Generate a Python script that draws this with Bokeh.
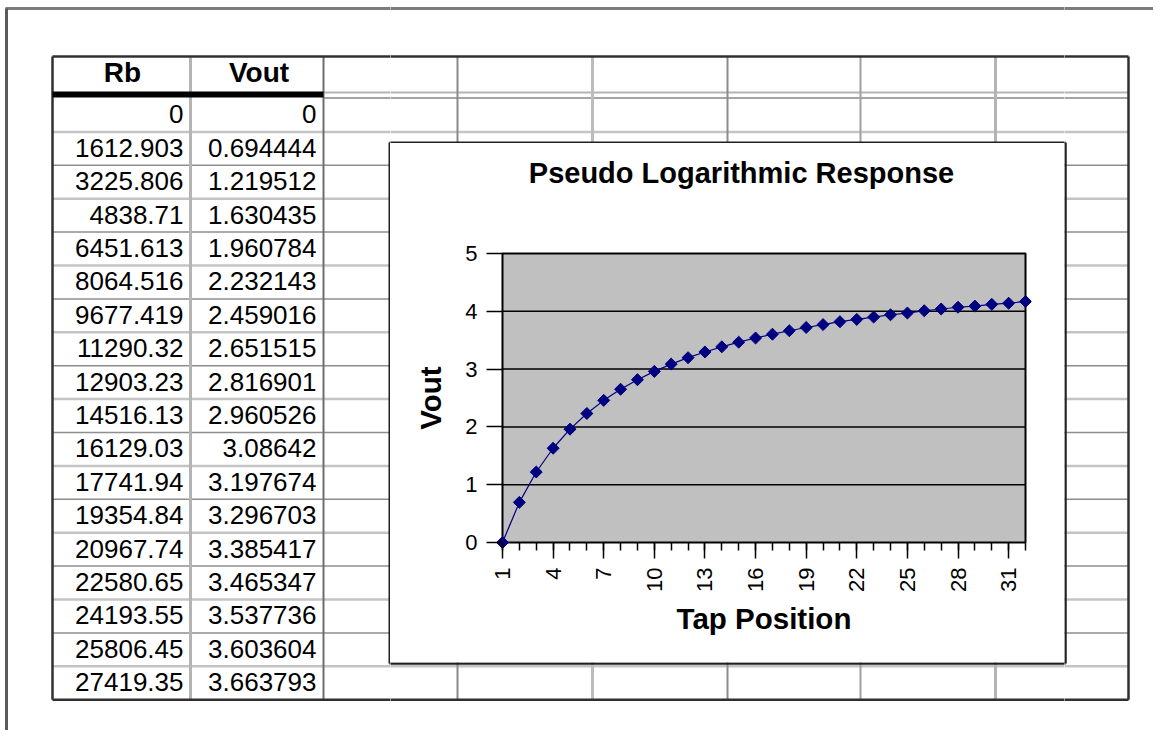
import math
from bokeh.plotting import figure
from bokeh.models import Range1d, FixedTicker
from bokeh.layouts import row, column
from bokeh.core.properties import value
from bokeh.embed import file_html
from bokeh.resources import INLINE

# ---------------- data ----------------
table_headers = ["Rb", "Vout"]
rb_values = [0, 1612.903, 3225.806, 4838.71, 6451.613, 8064.516, 9677.419,
             11290.32, 12903.23, 14516.13, 16129.03, 17741.94, 19354.84,
             20967.74, 22580.65, 24193.55, 25806.45, 27419.35]
vout_values = [0, 0.694444, 1.219512, 1.630435, 1.960784, 2.232143, 2.459016,
               2.651515, 2.816901, 2.960526, 3.08642, 3.197674, 3.296703,
               3.385417, 3.465347, 3.537736, 3.603604, 3.663793]
tap_position = [1, 2, 3, 4, 5, 6, 7, 8, 9, 10, 11, 12, 13, 14, 15, 16,
                17, 18, 19, 20, 21, 22, 23, 24, 25, 26, 27, 28, 29, 30, 31, 32]
vout_curve = [0, 0.694444, 1.219512, 1.630435, 1.960784, 2.232143, 2.459016,
              2.651515, 2.816901, 2.960526, 3.08642, 3.197674, 3.296703,
              3.385417, 3.465347, 3.537736, 3.603604, 3.663793,
              3.72, 3.77, 3.82, 3.86, 3.90, 3.94, 3.97, 4.01, 4.04, 4.07,
              4.09, 4.12, 4.14, 4.17]
x_tick_values = [1, 4, 7, 10, 13, 16, 19, 22, 25, 28, 31]
y_tick_values = [0, 1, 2, 3, 4, 5]
chart_title = "Pseudo Logarithmic Response"
x_label = "Tap Position"
y_label = "Vout"

# ---------------- layout constants (picture pixels) ----------------
PAGE_W, PAGE_H = 1153, 730
BOX_L, BOX_R, BOX_T, BOX_B = 390, 1064, 143, 662
TITLE_B = 205
COL_X = [52, 190, 323, 457, 592, 727, 860, 995, 1128]
COL_STYLE = [("#303030", 2.5), ("#b4b4b4", 3), ("#6e6e6e", 2), ("#8a8a8a", 2),
             ("#bcbcbc", 3), ("#8c8c8c", 2), ("#a0a0a0", 2), ("#b4b4b4", 3),
             ("#303030", 2.5)]
TBL_T = 56
ROW0 = 98
ROW_H = 33.4
FONT = "Liberation Sans"
BASE_SHIFT = 0.385   # em offset of the rendered alphabetic baseline


def plain_fig(x0, x1, y0, y1):
    return figure(width=int(x1 - x0), height=int(y1 - y0),
                  x_range=Range1d(x0, x1), y_range=Range1d(y1, y0),
                  x_axis_type=None, y_axis_type=None, min_border=0,
                  toolbar_location=None, output_backend="svg",
                  outline_line_color=None, background_fill_color="white",
                  border_fill_color="white")


def sheet_fig(x0, x1, y0, y1):
    f = plain_fig(x0, x1, y0, y1)
    n = len(rb_values)
    tbl_b = ROW0 + n * ROW_H
    segs = {"x0": [], "y0": [], "x1": [], "y1": [], "c": [], "w": []}

    def add(a, b, c, d, col, w):
        segs["x0"].append(a); segs["y0"].append(b)
        segs["x1"].append(c); segs["y1"].append(d)
        segs["c"].append(col); segs["w"].append(w)

    for i in range(1, n):
        y = ROW0 + i * ROW_H
        if i % 2 == 1:
            add(COL_X[0], y, COL_X[-1], y, "#c4c4c4", 2.5)
        else:
            add(COL_X[0], y, COL_X[-1], y, "#8e8e8e", 1.5)
    add(COL_X[2], 92, COL_X[-1], 92, "#b4b4b4", 2)
    add(COL_X[2], 97.5, COL_X[-1], 97.5, "#a4a4a4", 2)
    for x, (col, w) in zip(COL_X, COL_STYLE):
        add(x, TBL_T, x, tbl_b, col, w)
    add(COL_X[0], TBL_T, COL_X[-1], TBL_T, "#303030", 2.5)
    add(COL_X[0], tbl_b, COL_X[-1], tbl_b, "#303030", 2.5)
    add(COL_X[0], 94, COL_X[2], 94, "black", 6)
    # outer sheet frame
    add(5, 8, PAGE_W + 20, 8, "#7c7c7c", 3)
    add(6, 8, 6, PAGE_H + 20, "#5a5a5a", 3)
    # chart object border
    add(BOX_L - 1, BOX_T - 1, BOX_L - 1, BOX_B + 1, "#202020", 2)
    add(BOX_R + 1, BOX_T - 1, BOX_R + 1, BOX_B + 1, "#202020", 2.5)
    add(BOX_L - 1, BOX_T - 1, BOX_R + 1, BOX_T - 1, "#202020", 2)
    add(BOX_L - 1, BOX_B + 1, BOX_R + 1, BOX_B + 1, "#202020", 2.5)
    f.segment(x0=segs["x0"], y0=segs["y0"], x1=segs["x1"], y1=segs["y1"],
              line_color=segs["c"], line_width=segs["w"])
    return f


left_fig = sheet_fig(0, BOX_L, 0, PAGE_H)
top_fig = sheet_fig(BOX_L, BOX_R, 0, BOX_T)
bottom_fig = sheet_fig(BOX_L, BOX_R, BOX_B, PAGE_H)
right_fig = sheet_fig(BOX_R, PAGE_W, 0, PAGE_H)

# table texts
HDR_SIZE, CELL_SIZE = 28, 26
hx = [(COL_X[0] + COL_X[1]) / 2 + 1, (COL_X[1] + COL_X[2]) / 2 + 2]
hy = 83 - BASE_SHIFT * HDR_SIZE
left_fig.text(x=hx, y=[hy, hy], text=table_headers, text_font=value(FONT),
              text_font_size=value(f"{HDR_SIZE}px"), text_font_style="bold",
              text_align="center", text_baseline="alphabetic", text_color="black")
ys = [ROW0 + i * ROW_H + 26 - BASE_SHIFT * CELL_SIZE for i in range(len(rb_values))]
left_fig.text(x=[COL_X[1] - 7] * len(rb_values), y=ys, text=[str(v) for v in rb_values],
              text_font=value(FONT), text_font_size=value(f"{CELL_SIZE}px"),
              text_align="right", text_baseline="alphabetic", text_color="black")
left_fig.text(x=[COL_X[2] - 7] * len(vout_values), y=ys, text=[str(v) for v in vout_values],
              text_font=value(FONT), text_font_size=value(f"{CELL_SIZE}px"),
              text_align="right", text_baseline="alphabetic", text_color="black")

# title strip of the chart object
TITLE_SIZE = 29
title_fig = plain_fig(BOX_L, BOX_R, BOX_T, TITLE_B)
title_fig.text(x=[741], y=[184 - BASE_SHIFT * TITLE_SIZE], text=[chart_title],
               text_font=value(FONT), text_font_size=value(f"{TITLE_SIZE}px"),
               text_font_style="bold", text_align="center",
               text_baseline="alphabetic", text_color="black")

# ---------------- chart ----------------
FR_L, FR_R, FR_T, FR_B = 496, 1031, 247, 548      # frame
IN_L, IN_R, IN_T, IN_B = 502, 1025, 253, 542      # plot area
ux = (IN_R - IN_L) / (tap_position[-1] - tap_position[0])
uy = (IN_B - IN_T) / (y_tick_values[-1] - y_tick_values[0])
x_rng = Range1d(tap_position[0] - (IN_L - FR_L) / ux, tap_position[-1] + (FR_R - IN_R) / ux)
y_rng = Range1d(y_tick_values[0] - (FR_B - IN_B) / uy, y_tick_values[-1] + (IN_T - FR_T) / uy)

chart = figure(width=BOX_R - BOX_L, height=BOX_B - TITLE_B,
               x_range=x_rng, y_range=y_rng,
               min_border_left=FR_L - BOX_L, min_border_right=BOX_R - FR_R,
               min_border_top=FR_T - TITLE_B, min_border_bottom=BOX_B - FR_B,
               toolbar_location=None, output_backend="svg",
               background_fill_color="white", border_fill_color="white",
               outline_line_color=None)
chart.grid.visible = False

chart.quad(left=tap_position[0], right=tap_position[-1],
           bottom=y_tick_values[0], top=y_tick_values[-1],
           fill_color="#c0c0c0", line_color="black", line_width=2)
inner_y = y_tick_values[1:-1]
chart.segment(x0=[tap_position[0]] * len(inner_y), x1=[tap_position[-1]] * len(inner_y),
              y0=inner_y, y1=inner_y, line_color="black", line_width=1.5)

chart.line(tap_position, vout_curve, line_color="#000080", line_width=1.2)
chart.scatter(tap_position, vout_curve, marker="square", angle=math.pi / 4, size=8.5,
              fill_color="#000080", line_color="#000080")

LABEL_SIZE = "29.5px"
xa = chart.xaxis[0]
xa.ticker = FixedTicker(ticks=x_tick_values, minor_ticks=tap_position)
xa.axis_line_color = None
xa.major_tick_line_color = "black"
xa.major_tick_line_width = 1.5
xa.major_tick_in = 6
xa.major_tick_out = 10
xa.minor_tick_line_color = "black"
xa.minor_tick_line_width = 1.5
xa.minor_tick_in = 6
xa.minor_tick_out = 2
xa.major_label_orientation = math.pi / 2
xa.major_label_standoff = 9
xa.major_label_text_font = FONT
xa.major_label_text_font_size = "22px"
xa.major_label_text_color = "black"
xa.axis_label = x_label
xa.axis_label_text_font = FONT
xa.axis_label_text_font_size = LABEL_SIZE
xa.axis_label_text_font_style = "bold"
xa.axis_label_text_color = "black"
xa.axis_label_standoff = 7

ya = chart.yaxis[0]
ya.ticker = FixedTicker(ticks=y_tick_values, minor_ticks=[])
ya.axis_line_color = None
ya.major_tick_line_color = "black"
ya.major_tick_line_width = 1.5
ya.major_tick_in = 6
ya.major_tick_out = 10
ya.minor_tick_in = 0
ya.minor_tick_out = 0
ya.major_label_standoff = 9
ya.major_label_text_font = FONT
ya.major_label_text_font_size = "22px"
ya.major_label_text_color = "black"
ya.axis_label = y_label
ya.axis_label_text_font = FONT
ya.axis_label_text_font_size = LABEL_SIZE
ya.axis_label_text_font_style = "bold"
ya.axis_label_text_color = "black"
ya.axis_label_standoff = 15

middle = column(top_fig, title_fig, row(chart), bottom_fig)
page = row(left_fig, middle, right_fig)

open("out.html", "w").write(file_html(page, INLINE))
